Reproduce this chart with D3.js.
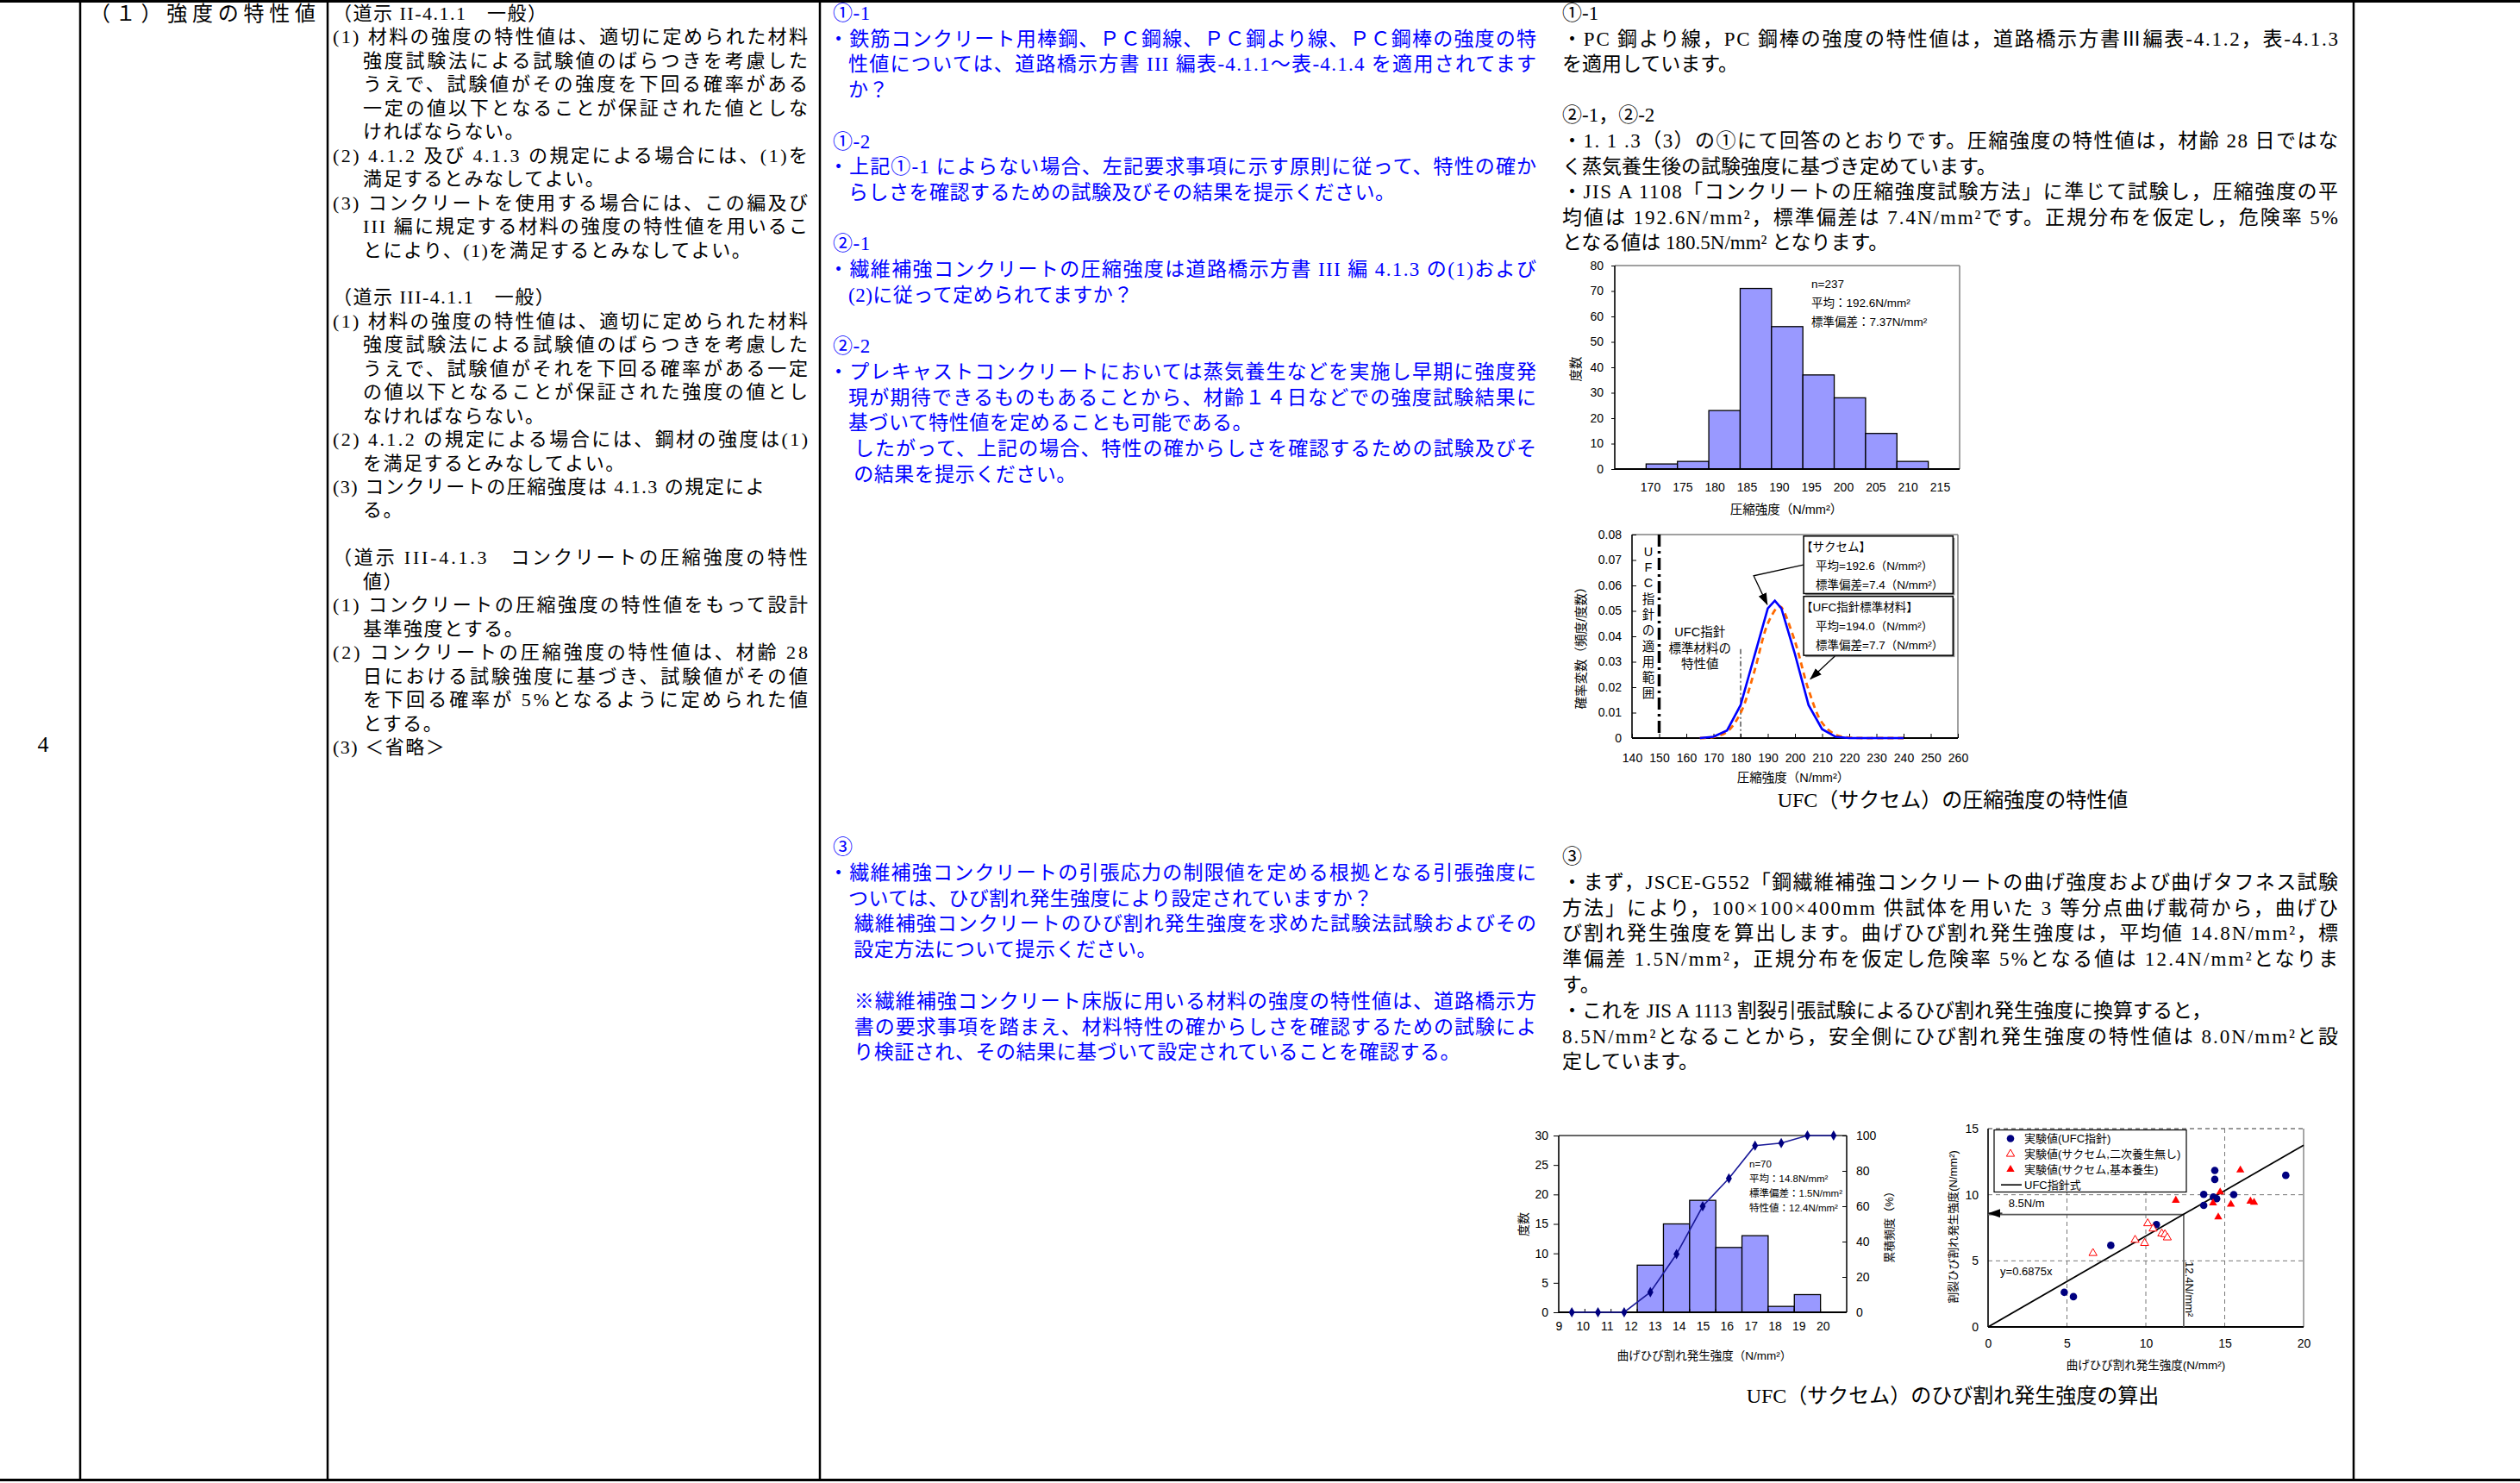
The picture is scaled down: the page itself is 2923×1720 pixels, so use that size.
<!DOCTYPE html>
<html><head><meta charset="utf-8">
<script src="https://cdn.jsdelivr.net/npm/d3@7/dist/d3.min.js"></script>
<style>body{margin:0;background:#fff} svg text{white-space:pre}</style>
</head><body>
<svg id="c" width="2923" height="1720"></svg>
<script>
// ---------------- DATA ----------------
// Text blocks: each inner array is one paragraph (its lines), [] is a blank line.
const rowNumber = "4";
const itemTitle = "（１）強度の特性値";

const reqParas = [
 ["（道示 II-4.1.1　一般）"],
 ["(1) 材料の強度の特性値は、適切に定められた材料",
  "強度試験法による試験値のばらつきを考慮した",
  "うえで、試験値がその強度を下回る確率がある",
  "一定の値以下となることが保証された値としな",
  "ければならない。"],
 ["(2) 4.1.2 及び 4.1.3 の規定による場合には、(1)を",
  "満足するとみなしてよい。"],
 ["(3) コンクリートを使用する場合には、この編及び",
  "III 編に規定する材料の強度の特性値を用いるこ",
  "とにより、(1)を満足するとみなしてよい。"],
 [],
 ["（道示 III-4.1.1　一般）"],
 ["(1) 材料の強度の特性値は、適切に定められた材料",
  "強度試験法による試験値のばらつきを考慮した",
  "うえで、試験値がそれを下回る確率がある一定",
  "の値以下となることが保証された強度の値とし",
  "なければならない。"],
 ["(2) 4.1.2 の規定による場合には、鋼材の強度は(1)",
  "を満足するとみなしてよい。"],
 ["(3) コンクリートの圧縮強度は 4.1.3 の規定によ"],
 ["る。"],
 [],
 ["（道示 III-4.1.3　コンクリートの圧縮強度の特性",
  "値）"],
 ["(1) コンクリートの圧縮強度の特性値をもって設計",
  "基準強度とする。"],
 ["(2) コンクリートの圧縮強度の特性値は、材齢 28",
  "日における試験強度に基づき、試験値がその値",
  "を下回る確率が 5%となるように定められた値",
  "とする。"],
 ["(3) ＜省略＞"]
];

const qParas1 = [
 ["①-1"],
 ["・鉄筋コンクリート用棒鋼、ＰＣ鋼線、ＰＣ鋼より線、ＰＣ鋼棒の強度の特",
  "性値については、道路橋示方書 III 編表-4.1.1～表-4.1.4 を適用されてます",
  "か？"],
 [],
 ["①-2"],
 ["・上記①-1 によらない場合、左記要求事項に示す原則に従って、特性の確か",
  "らしさを確認するための試験及びその結果を提示ください。"],
 [],
 ["②-1"],
 ["・繊維補強コンクリートの圧縮強度は道路橋示方書 III 編 4.1.3 の(1)および",
  "(2)に従って定められてますか？"],
 [],
 ["②-2"],
 ["・プレキャストコンクリートにおいては蒸気養生などを実施し早期に強度発",
  "現が期待できるものもあることから、材齢１４日などでの強度試験結果に",
  "基づいて特性値を定めることも可能である。"],
 [" したがって、上記の場合、特性の確からしさを確認するための試験及びそ",
  " の結果を提示ください。"]
];

const qParas3 = [
 ["③"],
 ["・繊維補強コンクリートの引張応力の制限値を定める根拠となる引張強度に",
  "ついては、ひび割れ発生強度により設定されていますか？"],
 [" 繊維補強コンクリートのひび割れ発生強度を求めた試験法試験およびその",
  " 設定方法について提示ください。"],
 [],
 [" ※繊維補強コンクリート床版に用いる材料の強度の特性値は、道路橋示方",
  " 書の要求事項を踏まえ、材料特性の確からしさを確認するための試験によ",
  " り検証され、その結果に基づいて設定されていることを確認する。"]
];

const aParas1 = [
 ["①-1"],
 ["・PC 鋼より線，PC 鋼棒の強度の特性値は，道路橋示方書Ⅲ編表-4.1.2，表-4.1.3",
  "を適用しています。"],
 [],
 ["②-1，②-2"],
 ["・1. 1 .3（3）の①にて回答のとおりです。圧縮強度の特性値は，材齢 28 日ではな",
  "く蒸気養生後の試験強度に基づき定めています。"],
 ["・JIS A 1108「コンクリートの圧縮強度試験方法」に準じて試験し，圧縮強度の平",
  "均値は 192.6N/mm²，標準偏差は 7.4N/mm²です。正規分布を仮定し，危険率 5%",
  "となる値は 180.5N/mm² となります。"]
];

const aParas3 = [
 ["③"],
 ["・まず，JSCE-G552「鋼繊維補強コンクリートの曲げ強度および曲げタフネス試験",
  "方法」により，100×100×400mm 供試体を用いた 3 等分点曲げ載荷から，曲げひ",
  "び割れ発生強度を算出します。曲げひび割れ発生強度は，平均値 14.8N/mm²，標",
  "準偏差 1.5N/mm²，正規分布を仮定し危険率 5%となる値は 12.4N/mm²となりま",
  "す。"],
 ["・これを JIS A 1113 割裂引張試験によるひび割れ発生強度に換算すると，"],
 ["8.5N/mm²となることから，安全側にひび割れ発生強度の特性値は 8.0N/mm²と設",
  "定しています。"]
];

const caption1 = "UFC（サクセム）の圧縮強度の特性値";
const caption2 = "UFC（サクセム）のひび割れ発生強度の算出";

// Chart 1: compressive strength histogram
const hist1Bins = [170, 175, 180, 185, 190, 195, 200, 205, 210];
const hist1Counts = [2, 3, 23, 71, 56, 37, 28, 14, 3];
const hist1XTicks = [170, 175, 180, 185, 190, 195, 200, 205, 210, 215];
const hist1YTicks = [0, 10, 20, 30, 40, 50, 60, 70, 80];
const hist1Notes = ["n=237", "平均：192.6N/mm²", "標準偏差：7.37N/mm²"];
const hist1XTitle = "圧縮強度（N/mm²）";
const hist1YTitle = "度数";

// Chart 2: probability density curves
const pdfSaccemX = [165, 170, 175, 180, 185, 190, 192.6, 195, 200, 205, 210, 215, 220, 225, 230, 235, 240];
const pdfSaccemY = [0, 0.0005, 0.003, 0.013, 0.032, 0.051, 0.054, 0.051, 0.033, 0.013, 0.0035, 0.0005, 0, 0, 0, 0, 0];
const pdfUfcX = [165, 170, 175, 180, 185, 190, 194, 195, 200, 205, 210, 215, 220, 225, 230, 235, 240];
const pdfUfcY = [0, 0.0004, 0.0025, 0.0099, 0.026, 0.045, 0.0518, 0.0514, 0.038, 0.019, 0.006, 0.0013, 0.0002, 0, 0, 0, 0];
const pdfXTicks = [140, 150, 160, 170, 180, 190, 200, 210, 220, 230, 240, 250, 260];
const pdfYTicks = [0, 0.01, 0.02, 0.03, 0.04, 0.05, 0.06, 0.07, 0.08];
const ufcRangeLimit = 150;
const ufcCharValue = 180;
const ufcRangeLabel = "UFC指針の適用範囲";
const ufcCharLabel = ["UFC指針", "標準材料の", "特性値"];
const pdfLegendTitles = ["【サクセム】", "【UFC指針標準材料】"];
const pdfLegendMeans = ["平均=192.6（N/mm²）", "平均=194.0（N/mm²）"];
const pdfLegendSds = ["標準偏差=7.4（N/mm²）", "標準偏差=7.7（N/mm²）"];
const pdfXTitle = "圧縮強度（N/mm²）";
const pdfYTitle = "確率変数（頻度/度数）";

// Chart 3: flexural cracking strength histogram + cumulative
const crackCounts = [0, 0, 0, 8, 15, 19, 11, 13, 1, 3, 0];
const crackCum = [0, 0, 0, 11.4, 32.9, 60.0, 75.7, 94.3, 95.7, 100, 100];
const crackXTicks = [9, 10, 11, 12, 13, 14, 15, 16, 17, 18, 19, 20];
const crackYTicks = [0, 5, 10, 15, 20, 25, 30];
const crackY2Ticks = [0, 20, 40, 60, 80, 100];
const crackNotes = ["n=70", "平均：14.8N/mm²", "標準偏差：1.5N/mm²", "特性値：12.4N/mm²"];
const crackXTitle = "曲げひび割れ発生強度（N/mm²）";
const crackYTitle = "度数";
const crackY2Title = "累積頻度（%）";

// Chart 4: scatter
const ufcPtsX = [4.83, 5.41, 7.78, 10.67, 13.67, 13.67, 14.28, 14.49, 14.37, 14.37, 15.57, 18.87];
const ufcPtsY = [2.62, 2.29, 6.17, 7.74, 10.03, 9.20, 9.83, 9.70, 11.84, 11.16, 10.01, 11.47];
const noCurePtsX = [6.65, 9.32, 9.92, 10.12, 10.46, 11.01, 11.21, 11.36];
const noCurePtsY = [5.58, 6.58, 6.34, 7.83, 7.43, 7.06, 7.00, 6.76];
const basicPtsX = [11.90, 14.26, 14.59, 14.71, 15.39, 15.99, 16.63, 16.86];
const basicPtsY = [9.57, 9.37, 8.31, 10.20, 9.27, 11.86, 9.51, 9.42];
const fitLineX = [0, 20];
const fitLineY = [0, 13.75];
const refFlex = 12.4, refSplit = 8.5;
const scatXTicks = [0, 5, 10, 15, 20];
const scatYTicks = [0, 5, 10, 15];
const scatLegend = ["実験値(UFC指針)", "実験値(サクセム,二次養生無し)", "実験値(サクセム,基本養生)", "UFC指針式"];
const scatXTitle = "曲げひび割れ発生強度(N/mm²)";
const scatYTitle = "割裂ひび割れ発生強度(N/mm²)";
const scatRefSplitLabel = "8.5N/m";
const scatRefFlexLabel = "12.4N/mm²";
const scatFitLabel = "y=0.6875x";

// ---------------- DRAW ----------------
const SERIF = '"Liberation Serif","Noto Sans CJK JP",serif';
const SANS = '"Liberation Sans","Noto Sans CJK JP",sans-serif';
const svg = d3.select("#c");
const defs = svg.append("defs");
defs.append("marker").attr("id", "ah").attr("markerUnits", "userSpaceOnUse")
  .attr("markerWidth", 14).attr("markerHeight", 10).attr("refX", 13).attr("refY", 5)
  .attr("orient", "auto").append("path").attr("d", "M0,0 L14,5 L0,10 Z").attr("fill", "#000");

// table grid
const grid = svg.append("g").attr("stroke", "#000");
grid.append("line").attr("x1", 0).attr("x2", 2923).attr("y1", 1.5).attr("y2", 1.5).attr("stroke-width", 3);
grid.append("line").attr("x1", 0).attr("x2", 2923).attr("y1", 1716.5).attr("y2", 1716.5).attr("stroke-width", 3);
[93, 380, 951, 2730].forEach(x => grid.append("line").attr("x1", x).attr("x2", x).attr("y1", 0).attr("y2", 1718).attr("stroke-width", 2.5));

svg.append("text").attr("x", 50).attr("y", 872).attr("text-anchor", "middle")
  .attr("font-family", SERIF).attr("font-size", 26).text(rowNumber);
svg.append("text").attr("x", 104).attr("y", 24).attr("font-family", SERIF).attr("font-size", 24)
  .attr("textLength", 262).attr("lengthAdjust", "spacing").text(itemTitle);

function textBlock(paras, o) {
  const g = svg.append("g");
  let li = 0;
  paras.forEach(p => {
    if (p.length === 0) { li++; return; }
    p.forEach((s, j) => {
      const x = o.xFor(s);
      const t = g.append("text").attr("x", x).attr("y", o.y0 + li * o.pitch)
        .attr("font-family", SERIF).attr("font-size", o.size).attr("fill", o.color)
        .attr("letter-spacing", o.ls).text(s);
      const w = t.node().getComputedTextLength();
      const target = o.right - x;
      if (j < p.length - 1 || w > target) {
        t.attr("letter-spacing", 0).attr("textLength", target).attr("lengthAdjust", "spacing");
      }
      li++;
    });
  });
}
const circled = ["①", "②", "③"];
textBlock(reqParas, {xFor: s => (s.startsWith("(") || s.startsWith("（")) ? 386 : 421,
  y0: 23, pitch: 27.45, right: 937, size: 22, ls: 1.5, color: "#000"});
const blueX = s => s.startsWith("・") ? 961 : circled.some(c => s.startsWith(c)) ? 966 : 984;
textBlock(qParas1, {xFor: blueX, y0: 23, pitch: 29.7, right: 1782, size: 23, ls: 0.5, color: "#0000ff"});
textBlock(qParas3, {xFor: blueX, y0: 990, pitch: 29.8, right: 1782, size: 23, ls: 0.5, color: "#0000ff"});
textBlock(aParas1, {xFor: s => 1812, y0: 23, pitch: 29.6, right: 2712, size: 23, ls: 0, color: "#000"});
textBlock(aParas3, {xFor: s => 1812, y0: 1001, pitch: 29.8, right: 2712, size: 23, ls: 0, color: "#000"});

svg.append("text").attr("x", 2265).attr("y", 936).attr("text-anchor", "middle").attr("font-family", SERIF).attr("font-size", 24).text(caption1);
svg.append("text").attr("x", 2265).attr("y", 1627).attr("text-anchor", "middle").attr("font-family", SERIF).attr("font-size", 24).text(caption2);

function styleAxis(g, size) {
  g.attr("font-family", SANS).attr("font-size", size);
  g.selectAll("text").attr("fill", "#000");
  g.selectAll("line").attr("stroke", "#000");
  g.select(".domain").remove();
  return g;
}
function frame(g, c, cols) {
  const seg = (x1, y1, x2, y2, col, w, dash) => g.append("line").attr("x1", x1).attr("y1", y1).attr("x2", x2).attr("y2", y2)
    .attr("stroke", col).attr("stroke-width", w).attr("stroke-dasharray", dash || null);
  seg(c.x1, c.y1, c.x2, c.y1, cols.top, 1.5, cols.topDash);
  seg(c.x2, c.y1, c.x2, c.y2, cols.right, 1.5);
  seg(c.x1, c.y1, c.x1, c.y2, "#000", 1.6);
  seg(c.x1, c.y2, c.x2, c.y2, "#000", 1.8);
}
function rotText(g, x, y, txt, size, ang) {
  g.append("text").attr("transform", `translate(${x},${y}) rotate(${ang})`).attr("text-anchor", "middle")
    .attr("dominant-baseline", "central").attr("font-family", SANS).attr("font-size", size).text(txt);
}

// ---------- Chart 1 ----------
{
  const c = {x1: 1873, x2: 2273, y1: 308, y2: 544};
  const x = d3.scaleLinear().domain([165, 220]).range([c.x1, c.x2]);
  const y = d3.scaleLinear().domain([0, 80]).range([c.y2, c.y1]);
  const lab = d3.scaleLinear().domain([170, 215]).range([1914, 2250]);
  const g = svg.append("g");
  g.selectAll("rect.bar").data(hist1Counts).join("rect").attr("class", "bar")
    .attr("x", (d, i) => x(hist1Bins[i])).attr("width", (d, i) => x(hist1Bins[i] + 5) - x(hist1Bins[i]))
    .attr("y", d => y(d)).attr("height", d => y(0) - y(d))
    .attr("fill", "#9999ff").attr("stroke", "#000").attr("stroke-width", 1.3);
  frame(g, c, {top: "#808080", right: "#808080"});
  styleAxis(g.append("g").attr("transform", `translate(${c.x1},0)`)
    .call(d3.axisLeft(y).tickValues(hist1YTicks).tickSize(4).tickPadding(9)), 14);
  styleAxis(g.append("g").attr("transform", `translate(0,${c.y2})`)
    .call(d3.axisBottom(lab).tickValues(hist1XTicks).tickSize(0).tickPadding(16)), 14);
  g.selectAll("text.note").data(hist1Notes).join("text").attr("class", "note")
    .attr("x", c.x1 + 228).attr("y", (d, i) => c.y1 + 26 + i * 22)
    .attr("font-family", SANS).attr("font-size", 13.5).text(d => d);
  g.append("text").attr("x", 2072).attr("y", 596).attr("text-anchor", "middle").attr("font-family", SANS).attr("font-size", 14.5).text(hist1XTitle);
  rotText(g, 1828, 428, hist1YTitle, 14.5, -90);
}

// ---------- Chart 2 ----------
{
  const c = {x1: 1893, x2: 2271, y1: 620, y2: 856};
  const x = d3.scaleLinear().domain([140, 260]).range([c.x1, c.x2]);
  const y = d3.scaleLinear().domain([0, 0.08]).range([c.y2, c.y1]);
  const g = svg.append("g");
  frame(g, c, {top: "#808080", right: "#808080"});
  styleAxis(g.append("g").attr("transform", `translate(${c.x1},0)`)
    .call(d3.axisLeft(y).tickValues(pdfYTicks).tickSize(-5).tickPadding(12).tickFormat(d => d === 0 ? "0" : d3.format(".2f")(d))), 14);
  styleAxis(g.append("g").attr("transform", `translate(0,${c.y2})`)
    .call(d3.axisBottom(x).tickValues(pdfXTicks).tickSize(-5).tickPadding(18)), 14);
  g.append("line").attr("x1", x(ufcRangeLimit)).attr("x2", x(ufcRangeLimit)).attr("y1", c.y1).attr("y2", c.y2)
    .attr("stroke", "#000").attr("stroke-width", 3.5).attr("stroke-dasharray", "14,5,3,5");
  g.append("line").attr("x1", x(ufcCharValue)).attr("x2", x(ufcCharValue)).attr("y1", y(0.035)).attr("y2", c.y2)
    .attr("stroke", "#000").attr("stroke-width", 1).attr("stroke-dasharray", "6,3,2,3");
  const vt = g.append("text").attr("font-family", SANS).attr("font-size", 14.5).attr("text-anchor", "middle");
  vt.selectAll("tspan").data(Array.from(ufcRangeLabel)).join("tspan")
    .attr("x", x(146)).attr("y", (d, i) => y(0.0716) + i * 18.3).text(d => d);
  g.selectAll("text.cl").data(ufcCharLabel).join("text").attr("class", "cl")
    .attr("x", x(165)).attr("y", (d, i) => y(0.04) + i * 18.5).attr("text-anchor", "middle")
    .attr("font-family", SANS).attr("font-size", 14.5).text(d => d);
  const lineU = d3.line().x((d, i) => x(pdfUfcX[i])).y(d => y(d)).curve(d3.curveCatmullRom);
  g.append("path").attr("d", lineU(pdfUfcY)).attr("fill", "none").attr("stroke", "#ff6a00")
    .attr("stroke-width", 2.8).attr("stroke-dasharray", "7,5");
  const lineS = d3.line().x((d, i) => x(pdfSaccemX[i])).y(d => y(d));
  g.append("path").attr("d", lineS(pdfSaccemY)).attr("fill", "none").attr("stroke", "#0000ff").attr("stroke-width", 2.6);
  const boxes = [[0.0794, 0.0568], [0.0557, 0.0325]];
  boxes.forEach((b, k) => {
    const bx = x(203.2), bw = x(258.2) - x(203.2), by = y(b[0]), bh = y(b[1]) - y(b[0]);
    g.append("rect").attr("x", bx + 2).attr("y", by + 2).attr("width", bw).attr("height", bh).attr("fill", "#888");
    g.append("rect").attr("x", bx).attr("y", by).attr("width", bw).attr("height", bh)
      .attr("fill", "#fff").attr("stroke", "#000").attr("stroke-width", 1.5);
    const ts = [pdfLegendTitles[k], pdfLegendMeans[k], pdfLegendSds[k]];
    ts.forEach((t, j) => g.append("text").attr("x", j === 0 ? bx - 3 : bx + 14).attr("y", by + 17 + j * 22)
      .attr("font-family", SANS).attr("font-size", 13.5).text(t));
  });
  const arr = d3.line().x(d => x(d[0])).y(d => y(d[1]));
  g.append("path").attr("d", arr([[203.1, 0.0681], [184.8, 0.0638], [189.8, 0.0525]])).attr("fill", "none")
    .attr("stroke", "#000").attr("stroke-width", 1.3).attr("marker-end", "url(#ah)");
  g.append("path").attr("d", arr([[214.7, 0.0322], [205.7, 0.0232]])).attr("fill", "none")
    .attr("stroke", "#000").attr("stroke-width", 1.3).attr("marker-end", "url(#ah)");
  g.append("text").attr("x", 2080).attr("y", 907).attr("text-anchor", "middle").attr("font-family", SANS).attr("font-size", 14.5).text(pdfXTitle);
  rotText(g, 1834, 748, pdfYTitle, 14.5, -90);
}

// ---------- Chart 3 ----------
{
  const c = {x1: 1808, x2: 2142, y1: 1317, y2: 1522};
  const band = d3.scaleBand().domain(d3.range(crackCounts.length)).range([c.x1, c.x2]).padding(0);
  const lab = d3.scaleLinear().domain([9, 21]).range([c.x1, c.x2]);
  const y = d3.scaleLinear().domain([0, 30]).range([c.y2, c.y1]);
  const y2 = d3.scaleLinear().domain([0, 100]).range([c.y2, c.y1]);
  const g = svg.append("g");
  g.selectAll("rect.bar").data(crackCounts.map((d, i) => ({d, i})).filter(o => o.d > 0)).join("rect")
    .attr("x", o => band(o.i)).attr("width", band.bandwidth()).attr("y", o => y(o.d)).attr("height", o => y(0) - y(o.d))
    .attr("fill", "#9999ff").attr("stroke", "#000").attr("stroke-width", 1.3);
  frame(g, c, {top: "#333", right: "#000"});
  styleAxis(g.append("g").attr("transform", `translate(${c.x1},0)`)
    .call(d3.axisLeft(y).tickValues(crackYTicks).tickSize(6).tickPadding(6)), 14);
  styleAxis(g.append("g").attr("transform", `translate(${c.x2},0)`)
    .call(d3.axisRight(y2).tickValues(crackY2Ticks).tickSize(-5).tickPadding(11)), 14);
  styleAxis(g.append("g").attr("transform", `translate(0,${c.y2})`)
    .call(d3.axisBottom(lab).tickValues(crackXTicks).tickSize(0).tickPadding(11)), 14);
  g.selectAll("line.bt").data(d3.range(1, crackCounts.length)).join("line")
    .attr("x1", i => band(i)).attr("x2", i => band(i)).attr("y1", c.y2).attr("y2", c.y2 - 4).attr("stroke", "#000");
  const cx = i => band(i) + band.bandwidth() / 2;
  g.append("path").attr("d", d3.line().x((d, i) => cx(i)).y(d => y2(d))(crackCum))
    .attr("fill", "none").attr("stroke", "#1a1a99").attr("stroke-width", 1.6);
  g.selectAll("path.mk").data(crackCum).join("path").attr("class", "mk")
    .attr("transform", (d, i) => `translate(${cx(i)},${y2(d)})`)
    .attr("d", d3.symbol(d3.symbolDiamond, 42)).attr("fill", "#000080");
  g.selectAll("text.note").data(crackNotes).join("text").attr("class", "note")
    .attr("x", c.x1 + 221).attr("y", (d, i) => c.y1 + 36.5 + i * 17.2)
    .attr("font-family", SANS).attr("font-size", 11.5).text(d => d);
  g.append("text").attr("x", 1977).attr("y", 1577).attr("text-anchor", "middle").attr("font-family", SANS).attr("font-size", 13.5).text(crackXTitle);
  rotText(g, 1767, 1420, crackYTitle, 14, -90);
  rotText(g, 2191, 1420, crackY2Title, 13, -90);
}

// ---------- Chart 4 ----------
{
  const c = {x1: 2306, x2: 2672, y1: 1309, y2: 1539};
  const x = d3.scaleLinear().domain([0, 20]).range([c.x1, c.x2]);
  const y = d3.scaleLinear().domain([0, 15]).range([c.y2, c.y1]);
  const g = svg.append("g");
  const gd = g.append("g").attr("stroke", "#777").attr("stroke-width", 1).attr("stroke-dasharray", "5,4");
  [5, 10, 15].forEach(v => gd.append("line").attr("x1", x(v)).attr("x2", x(v)).attr("y1", c.y1).attr("y2", c.y2));
  [5, 10].forEach(v => gd.append("line").attr("x1", c.x1).attr("x2", c.x2).attr("y1", y(v)).attr("y2", y(v)));
  frame(g, c, {top: "#777", topDash: "5,4", right: "#888"});
  styleAxis(g.append("g").attr("transform", `translate(${c.x1},0)`)
    .call(d3.axisLeft(y).tickValues(scatYTicks).tickSize(0).tickPadding(11)), 14);
  styleAxis(g.append("g").attr("transform", `translate(0,${c.y2})`)
    .call(d3.axisBottom(x).tickValues(scatXTicks).tickSize(0).tickPadding(14)), 14);
  g.append("path").attr("d", d3.line()([[x(0), y(refSplit)], [x(refFlex), y(refSplit)], [x(refFlex), y(0)]]))
    .attr("fill", "none").attr("stroke", "#555").attr("stroke-width", 1.6);
  g.append("line").attr("x1", x(0.9)).attr("x2", x(0) + 1).attr("y1", y(refSplit) - 1.5).attr("y2", y(refSplit) - 1.5)
    .attr("stroke", "#333").attr("stroke-width", 1.6).attr("marker-end", "url(#ah)");
  g.append("line").attr("x1", x(fitLineX[0])).attr("y1", y(fitLineY[0])).attr("x2", x(fitLineX[1])).attr("y2", y(fitLineY[1]))
    .attr("stroke", "#000").attr("stroke-width", 1.8);
  g.selectAll("circle.u").data(ufcPtsX).join("circle").attr("cx", d => x(d)).attr("cy", (d, i) => y(ufcPtsY[i]))
    .attr("r", 4.3).attr("fill", "#000080");
  const tri = d3.symbol(d3.symbolTriangle, 38);
  g.selectAll("path.n").data(noCurePtsX).join("path").attr("transform", (d, i) => `translate(${x(d)},${y(noCurePtsY[i])})`)
    .attr("d", tri).attr("fill", "#fff").attr("stroke", "#ff0000").attr("stroke-width", 1);
  g.selectAll("path.b").data(basicPtsX).join("path").attr("transform", (d, i) => `translate(${x(d)},${y(basicPtsY[i])})`)
    .attr("d", tri).attr("fill", "#ff0000");
  const lg = g.append("g").attr("transform", `translate(${c.x1 + 7},${c.y1 + 1.5})`);
  lg.append("rect").attr("width", 223).attr("height", 72).attr("fill", "#fff").attr("stroke", "#000").attr("stroke-width", 1.2);
  const ry = i => 10 + i * 17.9;
  lg.append("circle").attr("cx", 19).attr("cy", ry(0)).attr("r", 4.3).attr("fill", "#000080");
  lg.append("path").attr("transform", `translate(19,${ry(1)})`).attr("d", tri).attr("fill", "#fff").attr("stroke", "#ff0000");
  lg.append("path").attr("transform", `translate(19,${ry(2)})`).attr("d", tri).attr("fill", "#ff0000");
  lg.append("line").attr("x1", 8).attr("x2", 32).attr("y1", ry(3)).attr("y2", ry(3)).attr("stroke", "#000").attr("stroke-width", 1.6);
  lg.selectAll("text").data(scatLegend).join("text").attr("x", 35).attr("y", (d, i) => ry(i)).attr("dominant-baseline", "central")
    .attr("font-family", SANS).attr("font-size", 13).text(d => d);
  g.append("text").attr("x", x(1.3)).attr("y", y(9.05)).attr("font-family", SANS).attr("font-size", 13).text(scatRefSplitLabel);
  g.append("text").attr("x", x(0.77)).attr("y", y(3.89)).attr("font-family", SANS).attr("font-size", 13).text(scatFitLabel);
  g.append("text").attr("transform", `translate(${x(refFlex) + 2},${y(4.95)}) rotate(90)`)
    .attr("font-family", SANS).attr("font-size", 13).text(scatRefFlexLabel);
  g.append("text").attr("x", 2489).attr("y", 1588).attr("text-anchor", "middle").attr("font-family", SANS).attr("font-size", 13.5).text(scatXTitle);
  rotText(g, 2265, 1423, scatYTitle, 13, -90);
}
</script>
</body></html>
